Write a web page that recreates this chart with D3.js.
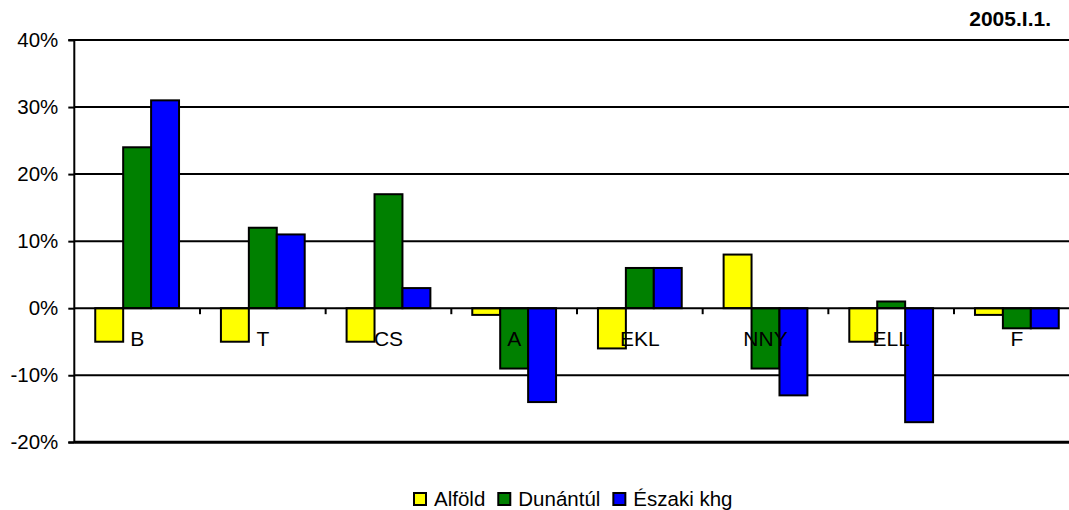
<!DOCTYPE html>
<html>
<head>
<meta charset="utf-8">
<script src="https://cdn.jsdelivr.net/npm/d3@7"></script>
<style>
  html, body { margin: 0; padding: 0; background: #fff; overflow: hidden; }
  svg { display: block; font-family: "Liberation Sans", Arial, sans-serif; }
</style>
</head>
<body>
<svg id="chart" width="1069" height="510"></svg>
<script>
// ---- data ----
const categories = ["B", "T", "CS", "A", "EKL", "NNY", "ELL", "F"];
const seriesNames = ["Alföld", "Dunántúl", "Északi khg"];
const alfold   = [-5, -5, -5, -1, -6,  8, -5, -1];
const dunantul = [24, 12, 17, -9,  6, -9,  1, -3];
const eszaki   = [31, 11,  3, -14, 6, -13, -17, -3];
const yTicks = [-20, -10, 0, 10, 20, 30, 40];
const title = "2005.I.1.";
const colors = ["#FFFF00", "#008000", "#0000FF"];

const seriesValues = [alfold, dunantul, eszaki];

const svg = d3.select("#chart");
const pLeft = 74.3, pRight = 1079.7, pTop = 40, pBottom = 442.3;

const x0 = d3.scaleBand().domain(categories).range([pLeft, pRight]).padding(0);
const barW = x0.bandwidth() / 4.5;
const x1 = d3.scaleBand().domain(seriesNames).range([0, barW * 3]).padding(0);
const y = d3.scaleLinear().domain([-20, 40]).range([pBottom, pTop]);

// gridlines
const grid = svg.append("g");
grid.selectAll("line").data(yTicks.filter(t => t !== 0)).join("line")
  .attr("x1", pLeft).attr("x2", pRight)
  .attr("y1", d => y(d)).attr("y2", d => y(d))
  .attr("stroke", "#000")
  .attr("stroke-width", d => d === -20 ? 3 : 2);

// bars
const groups = svg.append("g").selectAll("g").data(seriesNames).join("g")
  .attr("fill", (d, i) => colors[i]);
groups.selectAll("rect")
  .data((s, si) => categories.map((c, ci) => ({ c, s, v: seriesValues[si][ci] })))
  .join("rect")
  .attr("x", d => x0(d.c) + (x0.bandwidth() - barW * 3) / 2 + x1(d.s))
  .attr("width", x1.bandwidth())
  .attr("y", d => y(Math.max(0, d.v)))
  .attr("height", d => Math.abs(y(d.v) - y(0)))
  .attr("stroke", "#000")
  .attr("stroke-width", 2);

// y axis
const yAxis = d3.axisLeft(y).tickValues(yTicks).tickFormat(d => d + "%")
  .tickSize(6).tickPadding(10);
const ya = svg.append("g").attr("transform", `translate(${pLeft},0)`).call(yAxis);
ya.select(".domain").attr("stroke-width", 2).attr("d", `M-6,${pTop}H0V${pBottom}H-6`);
ya.selectAll(".tick line").attr("stroke-width", 2);
ya.selectAll(".tick text").attr("font-size", 20.5).attr("fill", "#000")
  .attr("font-family", "Liberation Sans, Arial, sans-serif");

// zero (category) axis line
const za = svg.append("g");
za.append("line").attr("x1", pLeft).attr("x2", pRight)
  .attr("y1", y(0)).attr("y2", y(0)).attr("stroke", "#000").attr("stroke-width", 2);
za.selectAll("line.tk").data(categories).join("line").attr("class", "tk")
  .attr("x1", d => x0(d) + x0.bandwidth()).attr("x2", d => x0(d) + x0.bandwidth())
  .attr("y1", y(0)).attr("y2", y(0) + 6)
  .attr("stroke", "#000").attr("stroke-width", 2);
za.selectAll("text").data(categories).join("text")
  .attr("x", d => x0(d) + x0.bandwidth() / 2)
  .attr("y", y(0) + 38)
  .attr("text-anchor", "middle")
  .attr("font-size", 21)
  .text(d => d);

// title
svg.append("text").attr("x", 1051).attr("y", 26).attr("text-anchor", "end")
  .attr("font-size", 21).attr("font-weight", "bold").text(title);

// legend
const leg = svg.append("g");
let lx = 414;
seriesNames.forEach((s, i) => {
  leg.append("rect").attr("x", lx).attr("y", 493).attr("width", 12).attr("height", 12)
    .attr("fill", colors[i]).attr("stroke", "#000").attr("stroke-width", 2);
  const t = leg.append("text").attr("x", lx + 20).attr("y", 505.5)
    .attr("font-size", 20.5).text(s);
  lx += 20 + t.node().getComputedTextLength() + 13;
});
</script>
</body>
</html>
